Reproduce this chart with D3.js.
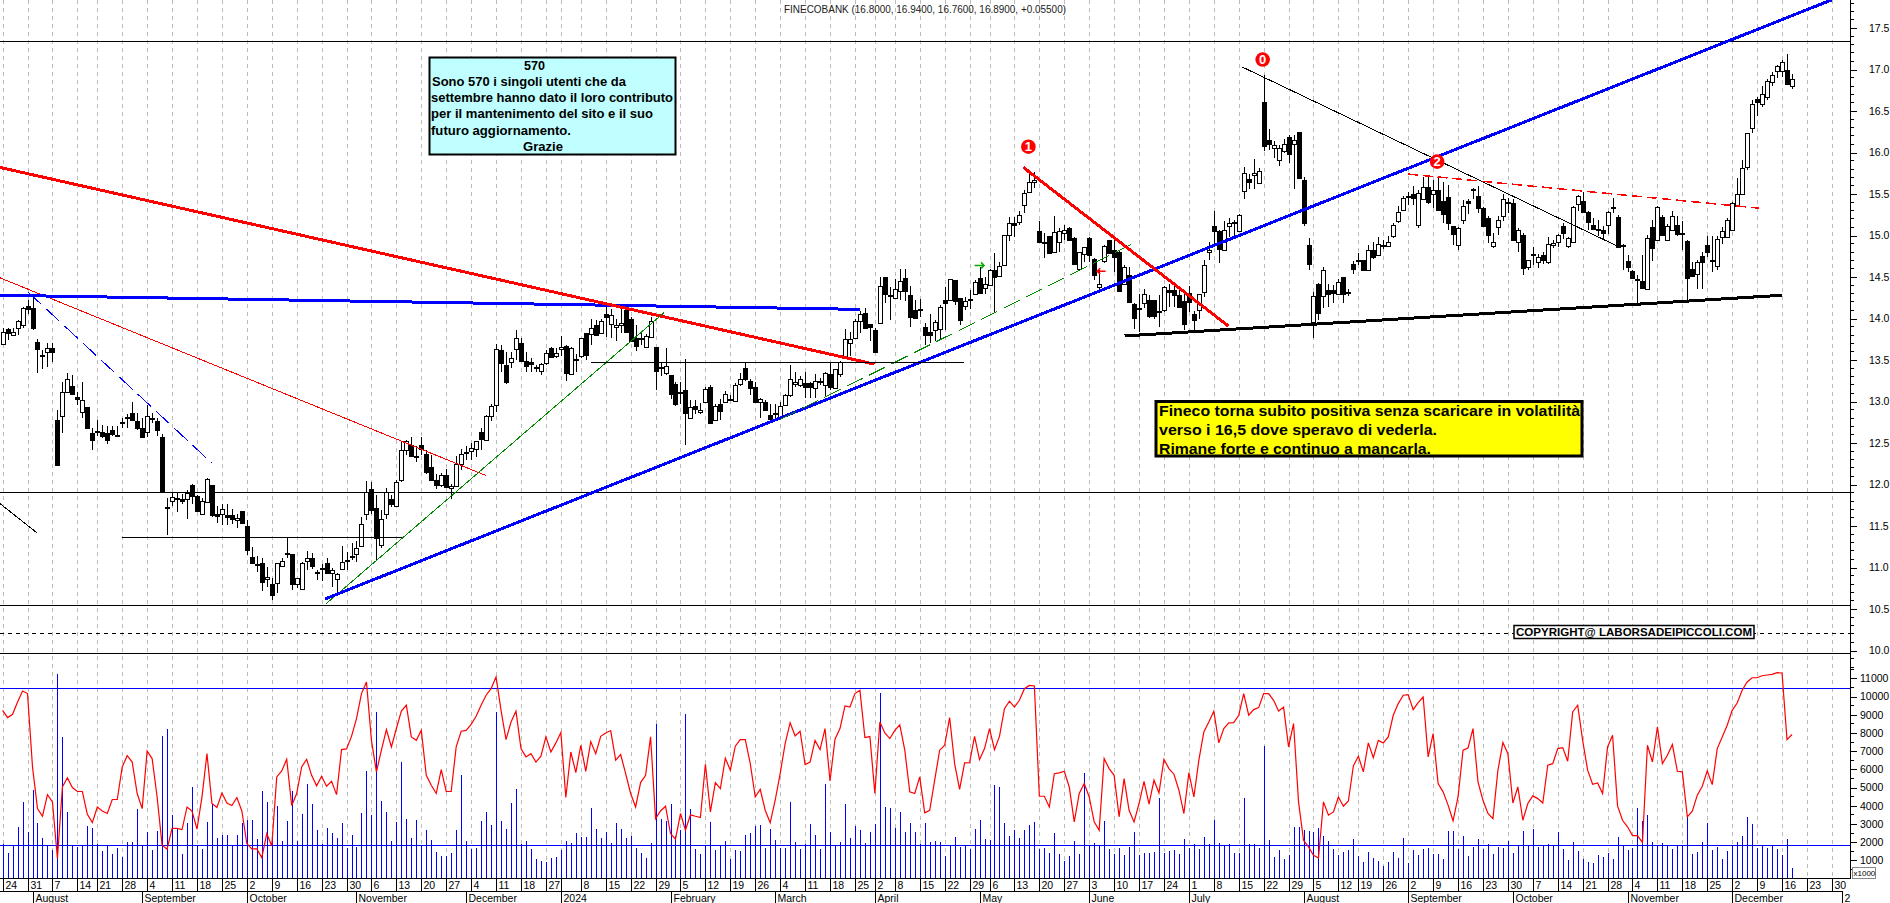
<!DOCTYPE html>
<html><head><meta charset="utf-8">
<script src="https://cdn.jsdelivr.net/npm/d3@7/dist/d3.min.js"></script>
<style>html,body{margin:0;padding:0;background:#fff;overflow:hidden}svg{display:block}text{font-family:"Liberation Sans",Arial,sans-serif}</style>
</head><body><svg id="c" width="1890" height="903"></svg>
<script>
const opens=[13.69,13.87,13.80,13.88,13.92,14.15,14.13,13.72,13.56,13.59,
13.64,12.78,12.82,13.11,13.19,13.05,12.87,12.93,12.62,12.64,
12.63,12.62,12.66,12.60,12.75,12.81,12.86,12.76,12.68,12.64,
12.80,12.76,12.57,11.73,11.80,11.84,11.82,11.83,12.00,11.86,
11.64,11.79,12.00,11.64,11.64,11.63,11.63,11.57,11.68,11.50,
11.13,11.04,11.05,10.86,10.80,10.81,11.02,11.17,11.16,10.80,
10.74,11.07,11.11,10.95,11.00,11.06,10.93,10.86,10.98,11.09,
11.14,11.16,11.27,11.64,11.94,11.72,11.27,11.64,11.83,11.74,
12.05,12.42,12.47,12.34,12.47,12.37,12.21,12.05,12.00,12.11,
11.95,11.98,12.25,12.39,12.40,12.42,12.63,12.53,12.82,12.96,
13.62,13.44,13.48,13.64,13.71,13.49,13.47,13.42,13.37,13.47,
13.65,13.55,13.64,13.67,13.34,13.51,13.54,13.82,13.81,13.92,
13.83,14.05,13.93,13.89,13.92,14.10,14.00,13.77,13.77,13.66,
13.78,13.66,13.42,13.35,13.32,13.21,13.11,13.14,12.80,12.95,
12.87,12.99,13.17,12.77,12.97,12.99,13.03,13.01,13.21,13.40,
13.25,13.17,12.99,12.99,12.84,12.86,12.80,12.96,13.08,13.20,
13.20,13.22,13.22,13.17,13.25,13.20,13.33,13.16,13.34,13.54,
13.70,13.77,13.97,14.07,13.93,13.86,13.94,14.50,14.28,14.25,
14.33,14.49,14.28,14.10,14.11,13.90,13.84,13.86,13.88,14.22,
14.22,14.46,14.25,14.15,14.23,14.29,14.49,14.36,14.41,14.59,
14.51,14.64,15.01,15.15,15.16,15.36,15.53,15.64,15.05,14.92,
14.99,14.80,14.92,15.03,15.09,14.97,14.60,14.77,14.97,14.72,
14.38,14.69,14.95,14.83,14.80,14.42,14.53,14.17,14.13,14.19,
14.22,14.22,14.09,14.10,14.34,14.34,14.28,14.21,14.31,14.05,
14.10,14.31,14.80,15.12,15.05,14.83,15.11,15.16,15.06,15.53,
15.68,15.72,15.64,16.61,16.15,16.05,15.90,16.02,16.19,16.10,
16.25,15.67,14.89,13.96,14.42,14.27,14.34,14.34,14.30,14.50,
14.32,14.66,14.70,14.71,14.59,14.83,14.77,14.89,14.87,15.00,
15.17,15.30,15.47,15.50,15.13,15.45,15.58,15.50,15.55,15.41,
15.46,15.11,14.88,15.19,15.41,15.56,15.47,15.33,15.21,14.87,
15.11,15.23,15.40,15.39,14.93,15.00,14.62,14.78,14.68,14.77,
14.68,14.88,14.92,15.11,14.87,14.92,15.37,15.42,15.28,15.13,
15.08,15.07,15.12,15.34,15.22,14.88,14.69,14.57,14.47,14.45,
14.36,15.10,14.94,15.22,14.95,15.07,15.13,15.03,14.93,14.60,
14.53,14.75,14.88,14.71,14.64,14.99,14.99,15.07,15.36,15.50,
15.82,16.30,16.64,16.59,16.67,16.84,16.98,16.98,17.00,16.80];
const closes=[13.84,13.82,13.84,13.97,14.13,14.11,13.89,13.63,13.55,13.64,
13.59,12.24,13.11,13.27,13.09,13.03,13.02,12.68,12.53,12.63,
12.58,12.54,12.61,12.59,12.74,12.80,12.78,12.67,12.57,12.83,
12.79,12.65,11.92,11.72,11.85,11.83,11.80,11.90,11.87,11.68,
11.80,12.07,11.64,11.61,11.70,11.60,11.58,11.60,11.54,11.21,
11.06,11.03,10.82,10.89,10.67,11.05,11.08,11.16,10.80,10.87,
11.05,11.11,11.01,10.94,10.99,10.94,10.97,10.92,11.07,11.08,
11.13,11.23,11.53,11.91,11.69,11.36,11.58,11.91,11.77,12.03,
12.41,12.53,12.34,12.33,12.42,12.15,12.05,11.99,12.12,11.97,
11.98,12.25,12.37,12.38,12.44,12.52,12.55,12.82,12.94,13.63,
13.46,13.24,13.53,13.77,13.49,13.43,13.45,13.41,13.45,13.59,
13.54,13.59,13.66,13.34,13.65,13.50,13.76,13.56,13.88,13.80,
13.97,14.01,14.04,13.92,13.94,13.83,13.74,13.67,13.76,13.79,
13.97,13.37,13.41,13.43,13.09,12.97,13.10,12.86,12.93,12.91,
12.90,13.15,12.74,12.94,12.89,13.09,13.02,13.20,13.27,13.27,
13.17,12.99,13.03,12.89,12.79,12.85,12.95,13.08,13.27,13.23,
13.27,13.17,13.17,13.25,13.24,13.34,13.17,13.39,13.48,13.75,
13.75,13.97,14.06,13.89,13.89,13.59,14.39,14.30,14.27,14.36,
14.45,14.33,14.01,14.00,14.10,13.80,13.80,13.96,14.14,14.18,
14.47,14.21,13.99,14.21,14.22,14.44,14.31,14.41,14.59,14.50,
14.63,15.00,15.15,15.13,15.25,15.51,15.65,15.67,14.92,14.91,
14.79,15.04,15.05,15.07,14.94,14.66,14.80,14.86,14.77,14.53,
14.42,14.87,14.79,14.74,14.33,14.62,14.21,14.00,14.12,14.30,
14.03,14.03,14.08,14.38,14.32,14.28,14.14,13.93,14.20,13.98,
14.29,14.64,14.83,15.06,14.83,15.07,15.15,15.15,15.25,15.75,
15.64,15.75,15.78,16.08,16.10,16.09,16.05,16.10,15.98,16.15,
15.70,15.15,14.66,14.27,14.07,14.58,14.29,14.30,14.44,14.30,
14.31,14.60,14.69,14.59,14.83,14.74,14.90,14.88,14.92,15.13,
15.28,15.45,15.46,15.45,15.51,15.59,15.40,15.55,15.31,15.25,
15.15,15.01,15.09,15.36,15.39,15.55,15.33,15.11,15.00,14.92,
15.19,15.44,15.39,14.94,15.07,14.60,14.70,14.77,14.74,14.71,
14.90,14.91,15.01,15.03,14.97,15.34,15.47,15.29,15.16,15.08,
15.07,15.03,15.28,15.33,14.86,14.87,14.62,14.48,14.46,14.37,
14.97,14.85,15.34,15.00,15.12,15.24,15.02,15.02,14.48,14.52,
14.68,14.68,14.79,14.70,14.96,15.06,15.19,15.39,15.50,15.81,
16.23,16.59,16.60,16.71,16.86,16.93,17.04,17.09,16.83,16.89];
const highs=[13.88,13.89,13.89,13.98,14.14,14.22,14.28,13.75,13.62,13.71,
13.71,12.90,13.23,13.34,13.32,13.12,13.23,12.93,12.68,12.78,
12.72,12.70,12.70,12.71,12.80,12.85,12.99,12.86,12.80,12.96,
12.86,12.80,12.61,11.84,11.91,11.90,11.89,11.93,12.01,11.87,
11.84,12.08,12.00,11.74,11.77,11.76,11.71,11.65,11.68,11.57,
11.25,11.14,11.11,11.01,10.87,11.06,11.11,11.36,11.16,10.87,
11.07,11.20,11.18,10.97,11.04,11.11,10.99,10.93,11.26,11.19,
11.29,11.32,11.61,12.04,12.03,11.87,11.69,11.96,11.87,12.05,
12.53,12.54,12.57,12.46,12.57,12.41,12.35,12.13,12.14,12.19,
12.01,12.34,12.43,12.46,12.50,12.53,12.68,12.84,12.97,13.69,
13.68,13.60,13.60,13.86,13.77,13.60,13.52,13.44,13.46,13.62,
13.66,13.64,13.79,13.68,13.66,13.57,13.77,13.82,14.00,13.98,
14.00,14.15,14.11,14.00,14.11,14.11,14.02,13.92,13.84,13.81,
14.02,13.66,13.47,13.64,13.32,13.24,13.24,13.51,13.02,13.02,
12.98,13.17,13.20,12.97,13.03,13.13,13.08,13.22,13.34,13.47,
13.27,13.23,13.04,13.02,12.97,12.97,12.99,13.09,13.44,13.35,
13.31,13.35,13.24,13.33,13.28,13.36,13.47,13.39,13.49,13.87,
13.84,14.00,14.09,14.13,13.93,13.89,14.50,14.50,14.38,14.48,
14.60,14.60,14.39,14.22,14.23,13.94,14.06,13.98,14.16,14.38,
14.48,14.46,14.25,14.26,14.34,14.46,14.62,14.50,14.60,14.79,
14.68,15.00,15.22,15.22,15.29,15.55,15.76,15.76,15.18,15.03,
15.00,15.23,15.09,15.13,15.10,14.98,14.80,14.86,14.98,14.73,
14.58,14.89,14.95,14.94,14.82,14.65,14.62,14.19,14.30,14.36,
14.28,14.22,14.28,14.39,14.41,14.41,14.39,14.32,14.39,14.09,
14.30,14.70,14.92,15.29,15.07,15.17,15.21,15.19,15.26,15.82,
15.74,15.92,15.81,16.93,16.28,16.14,16.09,16.16,16.21,16.21,
16.25,15.71,14.97,14.32,14.43,14.62,14.41,14.40,14.48,14.50,
14.35,14.69,14.79,14.71,14.88,14.92,14.98,14.94,15.00,15.15,
15.35,15.47,15.53,15.60,15.55,15.71,15.73,15.67,15.69,15.65,
15.61,15.12,15.10,15.43,15.44,15.57,15.60,15.34,15.23,15.03,
15.23,15.50,15.45,15.44,15.09,15.03,14.70,14.86,14.78,14.80,
14.98,14.94,15.02,15.15,14.98,15.36,15.49,15.53,15.30,15.21,
15.19,15.11,15.29,15.45,15.25,14.90,14.76,14.58,14.52,14.76,
15.01,15.19,15.35,15.25,15.14,15.30,15.23,15.17,14.94,14.68,
14.70,14.80,14.99,14.99,14.99,15.10,15.21,15.40,15.69,15.91,
16.24,16.63,16.67,16.80,16.88,16.97,17.05,17.11,17.19,16.94];
const lows=[13.68,13.74,13.79,13.80,13.89,14.05,13.86,13.34,13.39,13.41,
13.48,12.24,12.62,13.10,13.09,12.96,12.80,12.68,12.41,12.58,
12.56,12.49,12.58,12.57,12.68,12.68,12.77,12.66,12.57,12.57,
12.74,12.58,11.92,11.39,11.74,11.67,11.76,11.59,11.76,11.67,
11.63,11.79,11.61,11.54,11.51,11.51,11.52,11.47,11.53,11.15,
11.05,10.95,10.72,10.76,10.61,10.69,11.01,11.11,10.73,10.75,
10.74,10.97,10.98,10.85,10.84,10.92,10.77,10.67,10.97,10.97,
11.09,11.07,11.26,11.57,11.65,11.09,11.23,11.59,11.73,11.73,
12.03,12.35,12.33,12.27,12.35,12.13,12.04,11.95,11.97,11.97,
11.83,11.97,12.17,12.30,12.30,12.33,12.41,12.53,12.77,12.87,
13.35,13.21,13.40,13.50,13.49,13.36,13.36,13.35,13.32,13.44,
13.53,13.52,13.55,13.25,13.33,13.36,13.53,13.50,13.68,13.79,
13.82,13.78,13.76,13.73,13.82,13.82,13.73,13.61,13.68,13.64,
13.77,13.14,13.31,13.32,13.03,12.94,12.97,12.47,12.79,12.85,
12.85,12.99,12.73,12.77,12.78,12.98,13.01,13.00,13.19,13.25,
13.08,12.99,12.80,12.88,12.78,12.78,12.78,12.96,13.05,13.18,
13.17,13.04,13.04,13.04,13.20,13.06,13.14,13.15,13.29,13.52,
13.55,13.76,13.82,13.88,13.73,13.58,13.93,14.19,13.98,14.24,
14.22,14.21,13.90,13.99,14.02,13.68,13.71,13.73,13.75,13.86,
14.21,14.16,13.92,14.10,14.12,14.28,14.30,14.30,14.40,14.07,
14.50,14.63,14.93,14.98,15.13,15.27,15.52,15.57,14.91,14.73,
14.79,14.79,14.80,14.95,14.93,14.66,14.58,14.68,14.68,14.46,
14.35,14.67,14.79,14.56,14.32,14.41,14.21,13.87,13.84,14.13,
14.01,14.00,13.90,14.08,14.14,14.14,14.13,13.86,14.08,13.85,
13.99,14.26,14.70,14.90,14.67,14.82,14.98,14.98,15.05,15.44,
15.56,15.56,15.64,16.02,16.03,15.93,15.84,15.99,15.87,15.56,
15.69,15.11,14.58,13.77,13.98,14.13,14.14,14.19,14.30,14.19,
14.27,14.54,14.64,14.58,14.58,14.72,14.76,14.84,14.86,14.97,
15.15,15.29,15.37,15.37,15.09,15.45,15.38,15.33,15.29,15.15,
15.07,14.89,14.83,15.14,15.26,15.44,15.27,15.10,14.91,14.85,
15.01,15.17,15.27,14.93,14.80,14.53,14.59,14.64,14.61,14.66,
14.66,14.85,14.86,14.96,14.85,14.91,15.29,15.28,15.07,15.07,
15.00,14.94,15.02,15.27,14.85,14.59,14.56,14.47,14.18,14.36,
14.36,14.69,14.93,14.99,14.95,15.07,14.99,14.82,14.21,14.51,
14.36,14.36,14.74,14.56,14.59,14.90,14.97,15.06,15.35,15.49,
15.79,16.24,16.44,16.55,16.63,16.80,16.90,16.91,16.82,16.76];
const volumes=[1920,1410,1790,2820,4190,2540,4850,3040,2210,1790,
1560,11220,7760,3640,1790,1740,1790,2870,2760,1920,
1500,1790,1340,1670,1170,1990,1990,3810,1790,2540,
1560,2600,7810,8200,3480,2760,1340,3040,5010,1790,
1610,3090,4120,2210,2380,2380,1790,2380,3040,3200,
3200,2160,4790,4190,2380,3970,2050,3150,4790,2050,
3530,5180,4080,2650,1920,2760,2490,2210,3040,1650,
2380,1720,3590,5890,3480,9130,4250,3640,2050,3090,
6390,3260,2210,3200,1790,2650,2100,1450,1230,1230,
1390,2650,5670,2050,1610,1670,3150,3640,2930,9130,
3150,2710,4140,4900,1880,2050,1610,1060,950,900,
1120,1170,1560,2050,1940,2490,2270,2270,3860,2710,
2210,2540,1940,3040,2710,2210,2340,1670,1390,1120,
1940,8470,3260,3150,4080,2320,2650,9020,3810,1610,
1340,1790,3090,1560,1790,2050,1060,1560,1500,2380,
2490,2870,2930,1670,2710,2100,1670,1670,4190,1990,
1610,1880,2980,2380,1610,5180,2540,1790,1990,4080,
2210,2870,2650,1940,2540,2980,10170,3920,3860,2760,
3640,2540,3040,2540,1880,3040,1990,2050,1990,1230,
1790,2270,1720,1790,1610,2710,3200,2160,2100,5120,
5010,3040,2320,2650,2210,2650,2930,3090,1610,1670,
1390,2490,1340,950,1230,2050,1340,5780,1790,1940,
1790,3150,1610,1340,1670,1280,1720,2540,1280,1390,
1390,1450,4410,1390,1500,1560,1340,2160,1670,1880,
1610,2270,1880,3200,1940,1790,1880,1390,1390,4410,
1880,1880,1670,7270,2100,1170,1560,1060,1280,2820,
2820,2650,2600,2540,2760,2320,2050,1610,1280,1450,
1560,2160,1230,900,1450,1120,950,680,900,1450,
1120,2210,840,1560,1280,1610,1670,1340,1340,1060,
2600,2600,1610,2320,1230,1720,2160,1610,1880,1340,
1720,1670,2050,1390,1790,2600,1790,2710,1720,1790,
1880,1790,2540,1610,1010,1990,1500,1060,900,840,
1280,1170,1390,1060,2270,1790,1560,1670,3860,3150,
3480,1990,1790,1940,1790,1610,1790,1790,3390,1340,
1450,1990,3040,1560,1720,1060,1500,1790,1990,2320,
3370,2980,1670,1790,1670,1790,1610,1280,2160,570];
const oscillator=[9240,8840,9020,9700,10300,10160,6130,3840,3420,4610,
4210,1100,5030,5540,5000,4780,4780,3530,3070,3930,
3710,3570,4340,4340,6130,6750,6400,4670,3840,7010,
6590,4480,1830,1610,2750,2750,2690,3930,3700,2710,
4480,6860,4120,3900,4700,4150,4010,4450,3710,1920,
1630,1630,1150,2470,1790,5580,5910,6550,4010,4670,
6130,6550,5670,5090,5620,5070,5340,4610,7080,7120,
7810,8780,10160,10800,7590,5860,7050,8180,7230,8240,
9200,9520,7780,7590,8140,5670,5120,4670,5980,4780,
4780,7230,8090,8140,8470,8910,9520,10070,10430,11070,
9240,7630,8600,9200,7140,6680,6860,6400,6720,7780,
6950,7450,8020,4450,6950,5820,7320,5890,7520,6860,
7810,8000,8130,6500,6810,5760,4670,3930,5270,5670,
7780,3290,3710,3970,2470,2160,3570,2650,3500,3420,
3350,6280,3660,5270,4940,6610,5950,7270,7630,7630,
6310,4480,4900,3750,3060,4300,5760,7410,8560,7830,
8090,6260,6400,7590,7080,8240,5360,7650,8240,9480,
9420,10160,10340,7740,7800,4670,8600,8000,7690,8140,
8440,7050,4760,4670,5580,3610,3750,5400,7050,7320,
8840,6310,4900,6350,6370,7810,6530,7140,8240,7080,
7810,9330,9740,9420,9790,10430,10610,10580,4520,4520,
3930,5760,5800,5890,5030,3110,4670,5220,4480,3110,
2650,6590,6040,5670,3390,5490,3750,3110,4120,5340,
4080,5400,4700,6550,6040,5730,4850,3570,5820,4480,
6500,8050,8600,9190,7450,8240,8550,8560,8970,10160,
8970,9280,9390,10160,10160,9790,9200,9420,7230,8510,
4210,2100,1740,1280,1130,4210,3480,3660,4480,3970,
4260,6190,6720,5860,7450,6640,7590,7450,7780,8970,
9610,10070,10100,9280,9660,9970,6680,7960,5220,4760,
4030,3170,4480,7050,7170,8240,5310,4300,3570,3290,
5950,7470,6860,4150,5030,3200,4120,4540,4390,4150,
6220,6310,7140,7190,6440,9150,9520,7590,5950,5180,
5250,4670,7230,7870,3990,3200,2840,2360,2360,1980,
7320,6400,8330,6310,6770,7360,5890,5860,3390,3700,
4580,5070,5910,5160,7140,7780,8420,9240,9640,10340,
10800,11030,11030,11140,11180,11220,11310,11290,7630,7910];
const weekTickBars=[0,5,10,15,19,24,29,34,39,44,49,54,59,64,69,74,79,84,89,94,99,104,109,112,116,121,126,131,136,141,146,151,156,161,166,171,175,179,184,189,194,198,203,208,213,218,223,228,233,238,243,248,253,258,263,268,272,277,282,287,292,297,302,307,312,317,322,327,332,337,342,347,352,357,362,367];
const weekTickLabels=["24","31","7","14","21","28","4","11","18","25","2","9","16","23","30","6","13","20","27","4","11","18","27","","8","15","22","29","5","12","19","26","4","11","18","25","2","8","15","22","29","6","13","20","27","3","10","17","24","1","8","15","22","29","5","12","19","26","2","9","16","23","30","7","14","21","28","4","11","18","25","2","9","16","23","30"];
const monthTickBars=[6,28,49,71,93,112,134,155,175,196,218,238,261,282,303,326,347,369];
const monthTickLabels=["August","September","October","November","December","2024","February","March","April","May","June","July","August","September","October","November","December","2"];
const priceTicks=[17.5,17,16.5,16,15.5,15,14.5,14,13.5,13,12.5,12,11.5,11,10.5,10];
const volumeTicks=[1000,2000,3000,4000,5000,6000,7000,8000,9000,10000,11000];
const priceLevels=[17.336,11.906,10.545,9.96];
const dashedLevel=10.2;
const oscLevels=[10440,1813];
// trend lines: [bar, price, bar, price, colour, width, dash]
const trendLines=[
[-0.52,11.77,6.84,11.42,"#000",1,""],
[-0.52,14.49,96.9,12.11,"#f00",1,""],
[5.09,14.32,41.93,12.26,"#00f",1,"18,7"],
[-0.52,14.28,172.1,14.11,"#00f",3,""],
[-0.52,15.82,174.9,13.45,"#f00",3,""],
[64.85,10.56,132.68,14.07,"#080",1,""],
[64.65,10.62,367,17.84,"#00f",3,""],
[155.9,12.78,226.7,14.9,"#080",1,"18,7"],
[23.88,11.36,80.03,11.36,"#000",1,""],
[117.99,13.47,192.8,13.47,"#000",1,""],
[248.7,17.03,323.7,14.88,"#000",1,""],
[204.8,15.82,245.9,13.91,"#f00",3,""],
[225.1,13.79,356.96,14.28,"#000",3,""],
[281.9,15.74,352.4,15.33,"#f00",1.5,"10,5"]
];
const badgeLabels=["1","0","2"];
const badgeBars=[205.8,252.8,287.8];
const badgePrices=[16.07,17.12,15.89];
const titleText="FINECOBANK (16.8000, 16.9400, 16.7600, 16.8900, +0.05500)";
const cyanLines=["570","Sono 570 i singoli utenti che da","settembre hanno dato il loro contributo","per il mantenimento  del sito e il suo","futuro aggiornamento.","Grazie"];
const yellowLines=["Fineco torna subito positiva senza scaricare in volatilità","verso i 16,5 dove speravo di vederla.","Rimane forte e continuo a mancarla."];
const copyrightText="COPYRIGHT@ LABORSADEIPICCOLI.COM";

const svg=d3.select("#c");
const AX=1850,B1=878.5,B2=891,B3=903;
const x=d3.scaleLinear().domain([0,359]).range([2.6,1792]);
const y=d3.scaleLinear().domain([17,10]).range([69.5,650.5]);
const v=d3.scaleLinear().domain([0,11000]).range([B1,678.3]);
const idx=d3.range(opens.length);
const crisp=s=>s.attr("shape-rendering","crispEdges");

// grid
crisp(svg.append("g").selectAll("line").data(weekTickBars).join("line")
 .attr("x1",d=>Math.round(x(d))+.5).attr("x2",d=>Math.round(x(d))+.5).attr("y1",0).attr("y2",B1)
 .attr("stroke","#bcbcbc").attr("stroke-dasharray","4,4"));

// horizontal levels
crisp(svg.append("g").selectAll("line").data(priceLevels).join("line")
 .attr("x1",0).attr("x2",AX).attr("y1",d=>y(d)).attr("y2",d=>y(d)).attr("stroke","#000"));
crisp(svg.append("line").attr("x1",0).attr("x2",AX).attr("y1",y(dashedLevel)).attr("y2",y(dashedLevel))
 .attr("stroke","#000").attr("stroke-dasharray","4,4"));

// volume
crisp(svg.append("g").selectAll("line").data(idx).join("line")
 .attr("x1",i=>Math.round(x(i))+.5).attr("x2",i=>Math.round(x(i))+.5)
 .attr("y1",B1).attr("y2",i=>v(volumes[i])).attr("stroke","#00f"));
crisp(svg.append("g").selectAll("line").data(oscLevels).join("line")
 .attr("x1",0).attr("x2",AX).attr("y1",d=>v(d)).attr("y2",d=>v(d)).attr("stroke","#00f").attr("stroke-width",1));
svg.append("path").attr("d",d3.line().x(i=>x(i)).y(i=>v(oscillator[i]))(idx))
 .attr("fill","none").attr("stroke","#f00").attr("stroke-width",1.2);

// candles
const cg=svg.append("g");
crisp(cg.selectAll("line").data(idx).join("line")
 .attr("x1",i=>Math.round(x(i))+.5).attr("x2",i=>Math.round(x(i))+.5)
 .attr("y1",i=>y(highs[i])).attr("y2",i=>y(lows[i])).attr("stroke","#000"));
crisp(cg.selectAll("rect").data(idx).join("rect")
 .attr("x",i=>Math.round(x(i))-1.5).attr("width",4)
 .attr("y",i=>Math.round(y(Math.max(opens[i],closes[i])))+.5)
 .attr("height",i=>Math.max(0,Math.round(y(Math.min(opens[i],closes[i]))-y(Math.max(opens[i],closes[i])))))
 .attr("fill",i=>closes[i]>=opens[i]?"#fff":"#000").attr("stroke","#000"));

// trend lines
crisp(svg.append("g").selectAll("line").data(trendLines).join("line")
 .attr("x1",d=>x(d[0])).attr("y1",d=>y(d[1])).attr("x2",d=>x(d[2])).attr("y2",d=>y(d[3]))
 .attr("stroke",d=>d[4]).attr("stroke-width",d=>d[5]).attr("stroke-dasharray",d=>d[6]));

// arrows
const ax1=x(195),ax2=x(196.9),ay=y(14.64);
svg.append("path").attr("d",`M${ax1},${ay}H${ax2}M${ax2-3},${ay-3}L${ax2},${ay}L${ax2-3},${ay+3}`).attr("fill","none").attr("stroke","#0a0").attr("stroke-width",1.5);
const bx1=x(219.6),bx2=x(221.3),by=y(14.57);
svg.append("path").attr("d",`M${bx2},${by}H${bx1}M${bx1+3},${by-3}L${bx1},${by}L${bx1+3},${by+3}`).attr("fill","none").attr("stroke","#f00").attr("stroke-width",1.5);

// badges
const bg=svg.append("g").selectAll("g").data(badgeLabels).join("g").attr("transform",(d,i)=>`translate(${x(badgeBars[i])},${y(badgePrices[i])})`);
bg.append("circle").attr("r",7.3).attr("fill","#f00");
bg.append("text").text(d=>d).attr("text-anchor","middle").attr("y",4.5).attr("font-size",13).attr("font-weight","bold").attr("fill","#fff");

// title
svg.append("text").text(titleText).attr("x",784).attr("y",12.5).attr("font-size",10.5).attr("fill","#222").attr("textLength",282).attr("lengthAdjust","spacingAndGlyphs");

// cyan box
svg.append("rect").attr("x",429.5).attr("y",57.5).attr("width",246).attr("height",97).attr("fill","#bfffff").attr("stroke","#000").attr("stroke-width",2);
const cyanX=[524,432,431,431,431,523];
const cyanW=[21,194,242,222,140,40];
svg.append("g").selectAll("text").data(cyanLines).join("text").text(d=>d)
 .attr("x",(d,i)=>cyanX[i]).attr("y",(d,i)=>69.5+i*16.3).attr("font-size",13.5).attr("font-weight","bold")
 .attr("textLength",(d,i)=>cyanW[i]).attr("lengthAdjust","spacingAndGlyphs");

// yellow box
svg.append("rect").attr("x",1156).attr("y",401.5).attr("width",426).attr("height",54.5).attr("fill","#ff0").attr("stroke","#000").attr("stroke-width",3);
const yellowW=[421,278,272];
svg.append("g").selectAll("text").data(yellowLines).join("text").text(d=>d)
 .attr("x",1159).attr("y",(d,i)=>415.5+i*19).attr("font-size",15).attr("font-weight","bold")
 .attr("textLength",(d,i)=>yellowW[i]).attr("lengthAdjust","spacingAndGlyphs");

// copyright
svg.append("rect").attr("x",1514).attr("y",625.5).attr("width",240).attr("height",13).attr("fill","#fff").attr("stroke","#000").attr("stroke-width",1.5);
svg.append("text").text(copyrightText).attr("x",1516).attr("y",636).attr("font-size",11).attr("font-weight","bold")
 .attr("textLength",236).attr("lengthAdjust","spacingAndGlyphs");

// axes
const frame=(a,b,c,d)=>crisp(svg.append("line").attr("x1",a).attr("y1",b).attr("x2",c).attr("y2",d).attr("stroke","#000"));
frame(AX+.5,0,AX+.5,B1);frame(0,B1,AX,B1);frame(0,B2,1842,B2);

const priceAxis=d3.axisRight(y).tickValues(priceTicks).tickFormat(d3.format(".1f")).tickSize(7).tickPadding(12);
const gp=svg.append("g").attr("transform",`translate(${AX},0)`).call(priceAxis);
const priceMinor=d3.range(98,179).map(d=>d/10).filter(d=>Math.round(d*10)%5);
crisp(gp.append("g").selectAll("line").data(priceMinor).join("line").attr("x1",0).attr("x2",4).attr("y1",d=>y(d)).attr("y2",d=>y(d)).attr("stroke","#000"));
const volAxis=d3.axisRight(v).tickValues(volumeTicks).tickFormat(d3.format("d")).tickSize(7).tickPadding(3);
const gv=svg.append("g").attr("transform",`translate(${AX},0)`).call(volAxis);
const volMinor=d3.range(500,12000,1000);
crisp(gv.append("g").selectAll("line").data(volMinor).join("line").attr("x1",0).attr("x2",4).attr("y1",d=>v(d)).attr("y2",d=>v(d)).attr("stroke","#000"));
[gp,gv].forEach(g=>{g.select(".domain").remove();g.attr("font-family",null).attr("font-size",null);
 g.selectAll(".tick line").attr("stroke","#000").attr("shape-rendering","crispEdges");
 g.selectAll("text").attr("fill","#000").style("font-size","10.5px").style("font-family",'"Liberation Sans",Arial,sans-serif');});

// x1000 box
crisp(svg.append("rect").attr("x",1852.5).attr("y",867.5).attr("width",23).attr("height",11).attr("fill","#fff").attr("stroke","#888"));
svg.append("text").text("x1000").attr("x",1853.5).attr("y",876).attr("font-size",8);

// bottom ticks
crisp(svg.append("g").selectAll("line").data(weekTickBars.filter(d=>d<369)).join("line")
 .attr("x1",d=>Math.round(x(d))+.5).attr("x2",d=>Math.round(x(d))+.5).attr("y1",B1).attr("y2",B2).attr("stroke","#000"));
crisp(svg.append("g").selectAll("line").data(monthTickBars).join("line")
 .attr("x1",d=>Math.round(x(d))+.5).attr("x2",d=>Math.round(x(d))+.5).attr("y1",B2).attr("y2",B3).attr("stroke","#000"));
svg.append("g").selectAll("text").data(weekTickLabels).join("text").text(d=>d)
 .attr("x",(d,i)=>Math.round(x(weekTickBars[i]))+2.5).attr("y",889).attr("font-size",10.5);
svg.append("g").selectAll("text").data(monthTickLabels).join("text").text(d=>d)
 .attr("x",(d,i)=>Math.round(x(monthTickBars[i]))+2.5).attr("y",902).attr("font-size",10.5);
</script></body></html>
